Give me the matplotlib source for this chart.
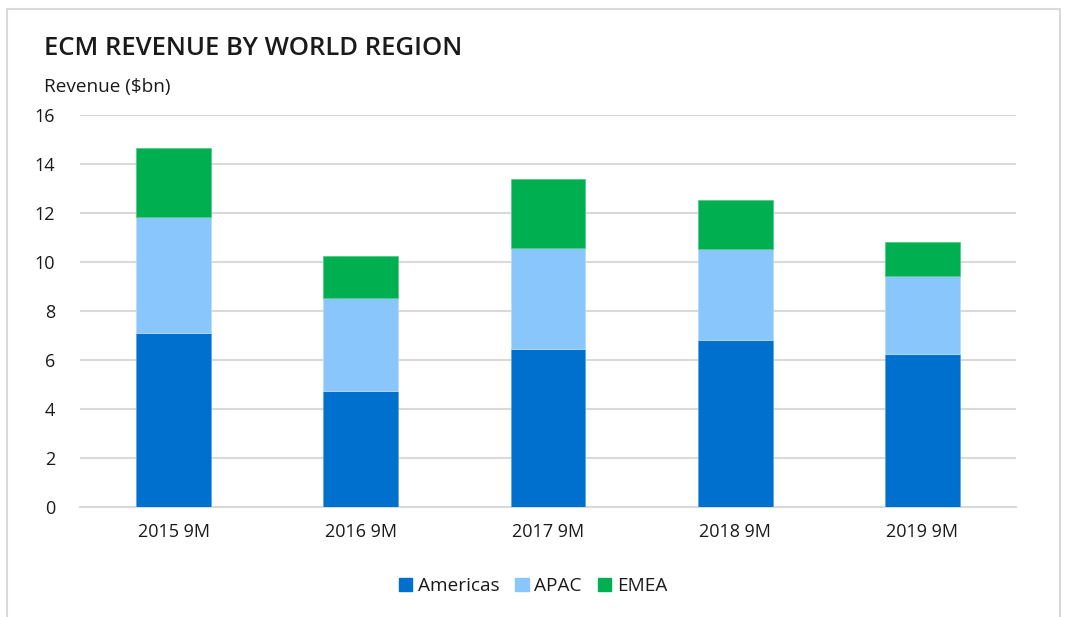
import matplotlib
matplotlib.use("Agg")
import matplotlib.pyplot as plt
from matplotlib.patches import Rectangle, Patch
import numpy as np

# Data ($bn)
periods = ["2015 9M", "2016 9M", "2017 9M", "2018 9M", "2019 9M"]
americas = [7.10, 4.75, 6.46, 6.82, 6.27]
apac = [4.74, 3.78, 4.11, 3.72, 3.16]
emea = [2.83, 1.73, 2.82, 2.00, 1.39]
y_ticks = [0, 2, 4, 6, 8, 10, 12, 14, 16]

col_americas = "#0070CE"
col_apac = "#89C6FC"
col_emea = "#00AF50"
grid_col = "#D9D9D9"
text_col = "#1A1A1A"

plt.rcParams["font.family"] = ["Open Sans", "DejaVu Sans"]

W, H = 1067, 617
fig = plt.figure(figsize=(W / 100, H / 100), dpi=100)
ax = fig.add_axes([80 / W, (H - 507.3) / H, 936 / W, 392.3 / H])

x = np.arange(len(periods))
bw = 0.4
a = np.array(americas)
b = np.array(apac)
c = np.array(emea)
ax.bar(x, a, bw, color=col_americas, edgecolor="#5FA3E6", linewidth=0.6, zorder=3)
ax.bar(x, b, bw, bottom=a, color=col_apac, edgecolor="#B5DBFD", linewidth=0.6, zorder=3)
ax.bar(x, c, bw, bottom=a + b, color=col_emea, edgecolor="#55C98A", linewidth=0.6, zorder=3)

ax.set_xlim(-0.5, len(periods) - 0.5)
ax.set_ylim(0, 16)
ax.set_yticks(y_ticks)
ax.set_xticks(x)
ax.set_xticklabels(periods)
ax.yaxis.grid(True, color=grid_col, linewidth=1.5, zorder=0)
ax.set_axisbelow(True)
for s in ["top", "right", "left"]:
    ax.spines[s].set_visible(False)
ax.spines["bottom"].set_color(grid_col)
ax.spines["bottom"].set_linewidth(1.5)
ax.tick_params(axis="both", length=0, labelsize=13, colors=text_col)
ax.tick_params(axis="y", pad=18)
ax.tick_params(axis="x", pad=11)
for lbl in ax.get_yticklabels():
    lbl.set_horizontalalignment("right")

fig.text(44 / W, 1 - 55 / H, "ECM REVENUE BY WORLD REGION", fontsize=18.5,
         fontweight="semibold", color=text_col, ha="left", va="baseline")
fig.text(44 / W, 1 - 92 / H, "Revenue ($bn)", fontsize=13.7, color=text_col,
         ha="left", va="baseline")

handles = [Patch(color=col_americas, label="Americas"),
           Patch(color=col_apac, label="APAC"),
           Patch(color=col_emea, label="EMEA")]
fig.legend(handles=handles, loc="center", bbox_to_anchor=(533 / W, 1 - 586 / H),
           ncol=3, frameon=False, fontsize=13.7, handlelength=0.7, handleheight=0.7,
           handletextpad=0.3, columnspacing=0.85, labelcolor=text_col)

# light chart-area frame
fig.patches.append(Rectangle((7 / W, -0.05), 1053 / W, 1 - 9 / H + 0.05,
                             transform=fig.transFigure, fill=False,
                             edgecolor=grid_col, linewidth=1.5))

fig.savefig("out.png", dpi=100, facecolor="white")
